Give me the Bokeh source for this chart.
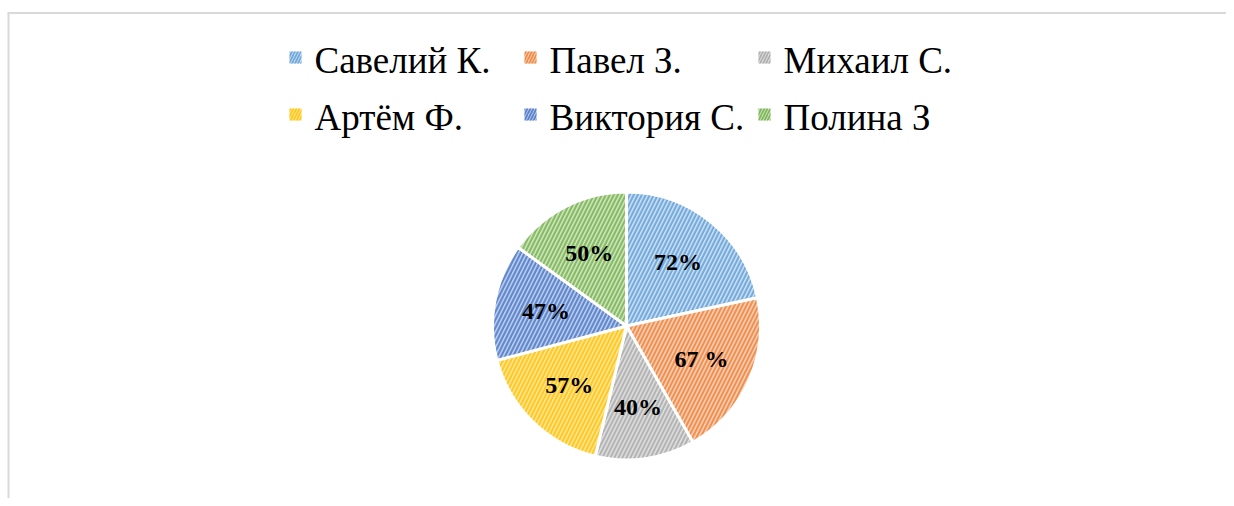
import numpy as np
from bokeh.plotting import figure
from bokeh.models import Range1d, ColumnDataSource
from bokeh.core.properties import value
from bokeh.embed import file_html
from bokeh.resources import INLINE

names = ["Савелий К.", "Павел З.", "Михаил С.", "Артём Ф.", "Виктория С.", "Полина З"]
values = [72, 67, 40, 57, 47, 50]
labels = ["72%", "67 %", "40%", "57%", "47%", "50%"]
base_colors = ["#5B9BD5", "#ED7D31", "#A5A5A5", "#FFC000", "#4472C4", "#70AD47"]
light_colors = ["#C6DDF1", "#F8CDB2", "#DEDEDE", "#FFE593", "#B8CAEA", "#CBE3BA"]

W, H = 1226, 498
p = figure(width=W, height=H, output_backend="svg", toolbar_location=None,
           x_range=Range1d(0, W), y_range=Range1d(0, H), min_border=0)
p.axis.visible = False
p.grid.visible = False
p.outline_line_color = None
p.background_fill_color = "white"
p.border_fill_color = "white"

def sy(y):
    return H - y

# frame lines (left & top)
p.line([8, 8], [sy(12.5), sy(520)], line_color="#D9D9D9", line_width=2)
p.line([7, 1240], [sy(12.5), sy(12.5)], line_color="#D9D9D9", line_width=2)

vals = np.array(values, dtype=float)
frac = vals / vals.sum()
cum = np.concatenate([[0], np.cumsum(frac)])
start = np.pi / 2 - cum[:-1] * 2 * np.pi
end = np.pi / 2 - cum[1:] * 2 * np.pi
mid = (start + end) / 2

cx, cy, R = 626, sy(325.5), 134
src = ColumnDataSource(dict(start=start, end=end, fill=light_colors, hatch=base_colors))
p.wedge(x=cx, y=cy, radius=R, start_angle="start", end_angle="end", direction="clock",
        fill_color="fill", hatch_color="hatch", hatch_pattern="/", hatch_scale=8,
        hatch_weight=2.0, hatch_alpha=0.75, line_color="white", line_width=3, source=src)

lr = 82
p.text(x=cx + lr * np.cos(mid), y=cy + lr * np.sin(mid), text=labels,
       text_font=value("Liberation Serif"), text_font_style="bold",
       text_font_size="24px", text_align="center", text_baseline="middle",
       text_color="black")

# legend
col_x = [295, 530, 764]
row_y = [57, 114]
lx, ly = [], []
for i in range(len(names)):
    lx.append(col_x[i % 3])
    ly.append(sy(row_y[i // 3]))
lsrc = ColumnDataSource(dict(x=lx, y=ly, tx=[v + 19 for v in lx], ty=[v - 3 for v in ly],
                             name=names, fill=light_colors, hatch=base_colors))
p.rect(x="x", y="y", width=12, height=12, fill_color="fill", hatch_color="hatch",
       hatch_pattern="/", hatch_scale=6, hatch_weight=1.8, hatch_alpha=0.8,
       line_color=None, source=lsrc)
p.text(x="tx", y="ty", text="name", text_font=value("Liberation Serif"),
       text_font_size="37px", text_align="left", text_baseline="middle",
       text_color="black", source=lsrc)

open("out.html", "w").write(file_html(p, INLINE))
